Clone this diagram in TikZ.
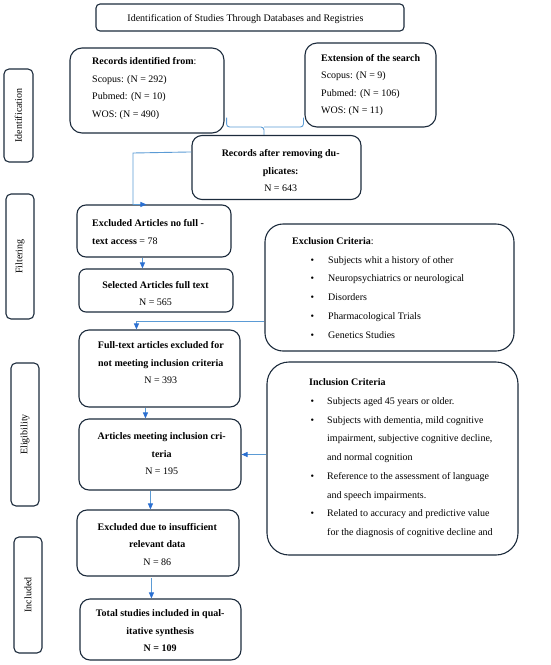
\documentclass[tikz,border=0pt]{standalone}
\usepackage{fontspec}
\setmainfont{Liberation Serif}
\usepackage{graphicx}
\usetikzlibrary{arrows.meta,calc}
\definecolor{boxline}{HTML}{1C2B3C}
\definecolor{connblue}{HTML}{5B9BD5}
\definecolor{tipblue}{HTML}{2A6FD1}
\tikzset{
  frame/.style={draw=boxline, line width=1.1pt, inner sep=0pt},
  txt/.style={font=\fontsize{10}{17.5}\selectfont, inner sep=0pt, text=black},
  crit/.style={font=\fontsize{10}{18.75}\selectfont, inner sep=0pt, text=black, align=left, anchor=west},
  link/.style={draw=connblue, line width=0.9pt},
  arr/.style={link, -{Triangle[length=6pt,width=5pt,color=tipblue]}},
}
\newcommand{\bul}[2]{\hspace*{#1}\makebox[#2][l]{\textbullet}}
\begin{document}
\begin{tikzpicture}[x=1pt,y=-1pt]
\useasboundingbox (0,0) rectangle (550,665);
% frames
\node[frame, rounded corners=4pt, minimum width=308pt, minimum height=27pt] (title) at (250,17.5) {};
\node[frame, rounded corners=12pt, minimum width=154pt, minimum height=85pt] (rec) at (147,90.5) {};
\node[frame, rounded corners=12pt, minimum width=131pt, minimum height=84pt] (ext) at (370.5,85) {};
\node[frame, rounded corners=10pt, minimum width=169pt, minimum height=64pt] (dup) at (276.5,167.5) {};
\node[frame, rounded corners=9pt, minimum width=154pt, minimum height=52pt] (exa) at (154,231) {};
\node[frame, rounded corners=7pt, minimum width=154pt, minimum height=43pt] (sel) at (156,290.5) {};
\node[frame, rounded corners=18pt, minimum width=249pt, minimum height=127pt] (exc) at (389.5,287.5) {};
\node[frame, rounded corners=10pt, minimum width=161pt, minimum height=77pt] (ful) at (159.5,368.5) {};
\node[frame, rounded corners=10pt, minimum width=162pt, minimum height=71pt] (mee) at (160,454.5) {};
\node[frame, rounded corners=22pt, minimum width=251pt, minimum height=193pt] (inc) at (392.5,458.5) {};
\node[frame, rounded corners=10pt, minimum width=162pt, minimum height=66pt] (ins) at (158,543) {};
\node[frame, rounded corners=10pt, minimum width=161pt, minimum height=61pt] (tot) at (160.5,629.5) {};
% side frames
\node[frame, rounded corners=5pt, minimum width=29pt, minimum height=93pt] (sid) at (18.5,115.5) {};
\node[frame, rounded corners=5pt, minimum width=28pt, minimum height=125pt] (sfi) at (20,256.5) {};
\node[frame, rounded corners=5pt, minimum width=28pt, minimum height=143pt] (sel2) at (25,434.5) {};
\node[frame, rounded corners=5pt, minimum width=28pt, minimum height=116pt] (sin) at (28,595) {};
% side texts
\node[txt, rotate=90] (tid) at (sid.center) {Identification};
\node[txt, rotate=90] (tfi) at (sfi.center) {Filtering};
\node[txt, rotate=90] (tel) at (sel2.center) {Eligibility};
\node[txt, rotate=90] (tin) at (sin.center) {Included};
% texts
\node[txt] (ttitle) at (245.5,19) {Identification of Studies Through Databases and Registries};
\node[txt, align=left, anchor=west] (trec) at (92,88.7) {\textbf{Records identified from}:\\Scopus: (N = 292)\\Pubmed: (N = 10)\\WOS: (N = 490)};
\node[txt, align=left, anchor=west] (text) at (321,85) {\textbf{Extension of the search}\\Scopus: (N = 9)\\Pubmed: (N = 106)\\WOS: (N = 11)};
\node[txt, align=center] (tdup) at (280.7,171) {\textbf{Records after removing du-}\\\textbf{plicates:}\\N = 643};
\node[txt, align=left, anchor=west] (texa) at (92,232) {\textbf{Excluded Articles no full -}\\\textbf{text access} = 78};
\node[txt, align=center] (tsel) at (155.5,293.7) {\textbf{Selected Articles full text}\\N = 565};
\node[crit] (texc) at (292,287.8) {\textbf{Exclusion Criteria}:\\
\bul{18.5pt}{17.5pt}Subjects whit a history of other\\
\bul{18.5pt}{17.5pt}Neuropsychiatrics or neurological\\
\bul{18.5pt}{17.5pt}Disorders\\
\bul{18.5pt}{17.5pt}Pharmacological Trials\\
\bul{18.5pt}{17.5pt}Genetics Studies};
\node[txt, align=center] (tful) at (160.8,362.7) {\textbf{Full-text articles excluded for}\\\textbf{not meeting inclusion criteria}\\N = 393};
\node[txt, align=center] (tmee) at (161.7,454) {\textbf{Articles meeting inclusion cri-}\\\textbf{teria}\\N = 195};
\node[crit] (tinc) at (309,458.3) {\textbf{Inclusion Criteria}\\
\bul{1.5pt}{16.5pt}Subjects aged 45 years or older.\\
\bul{1.5pt}{16.5pt}Subjects with dementia, mild cognitive\\
\hspace*{18pt}impairment, subjective cognitive decline,\\
\hspace*{18pt}and normal cognition\\
\bul{1.5pt}{16.5pt}Reference to the assessment of language\\
\hspace*{18pt}and speech impairments.\\
\bul{1.5pt}{16.5pt}Related to accuracy and predictive value\\
\hspace*{18pt}for the diagnosis of cognitive decline and};
\node[txt, align=center] (tins) at (157.3,544.3) {\textbf{Excluded due to insufficient}\\\textbf{relevant data}\\N = 86};
\node[txt, align=center] (ttot) at (160.2,631) {\textbf{Total studies included in qual-}\\\textbf{itative synthesis}\\\textbf{N = 109}};
% brace joining the two search boxes
\coordinate (bl) at ($(rec.south east)+(2,-16)$);
\coordinate (br) at ($(ext.south west)+(-1,-10)$);
\coordinate (bm) at (264,127);
\draw[link, rounded corners=3pt] (bl) |- (bm) -- (dup.north -| bm);
\draw[link, rounded corners=3pt] (br) |- (bm);
% connectors
\coordinate (c1) at ($(dup.north west)+(0,17)$);
\coordinate (c2) at ($(exa.north west)+(70,0)$);
\draw[arr] (c1) -- (133,153) |- (c2);
\draw[arr] ($(exa.south west)+(66,0)$) -- ($(sel.north west)+(64,0)$);
\coordinate (c3) at ($(exc.north west)+(0,98)$);
\draw[arr] (c3) -| ($(ful.north west)+(58,0)$);
\draw[arr] ($(ful.south west)+(67,0)$) -- ($(mee.north west)+(67,0)$);
\draw[arr] (inc.west |- mee.east) -- (mee.east);
\draw[arr] ($(mee.south west)+(72,0)$) -- ($(ins.north west)+(74,0)$);
\draw[arr] ($(ins.south west)+(75,1.5)$) -- ($(tot.north west)+(72,0)$);
\end{tikzpicture}
\end{document}
